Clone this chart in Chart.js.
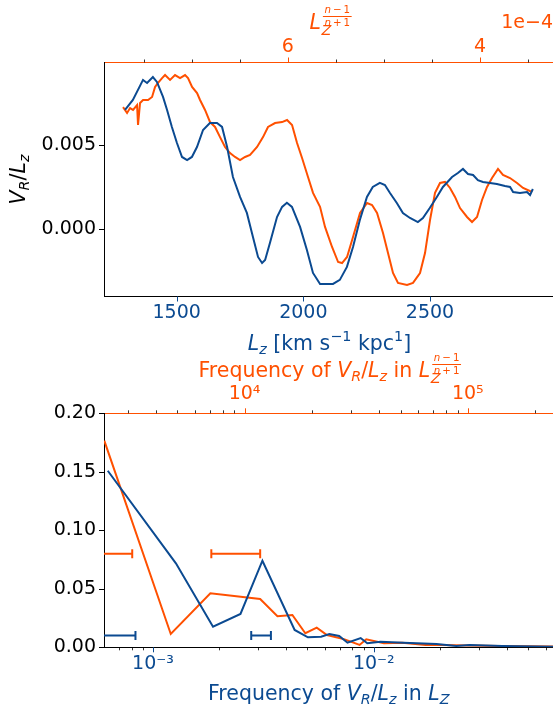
<!DOCTYPE html>
<html>
<head>
<meta charset="utf-8">
<script src="https://cdn.jsdelivr.net/npm/chart.js@4.4.1/dist/chart.umd.min.js"></script>
<style>
  html, body { margin: 0; padding: 0; background: #fff; overflow: hidden; }
  #wrap { position: relative; width: 553px; height: 710px; overflow: hidden; }
  canvas { position: absolute; left: 0; top: 0; }
</style>
</head>
<body>
<div id="wrap">
  <canvas id="topChart" width="560" height="710"></canvas>
  <canvas id="bottomChart" width="560" height="710"></canvas>
</div>
<script>
// ---- top panel: V_R/L_z against L_z (blue) and against L_z^((n-1)/(n+1)) (orange, units of 1e-4)
const lzBlue = [1296, 1327, 1367, 1383, 1406, 1422, 1446, 1462, 1481, 1501, 1521, 1541, 1560, 1580, 1604, 1631, 1659, 1679, 1699, 1722,
  1750, 1777, 1801, 1821, 1837, 1849, 1868, 1896, 1916, 1935, 1955, 1987, 2014, 2038, 2066, 2117, 2144, 2172, 2196, 2223,
  2251, 2274, 2302, 2322, 2342, 2369, 2393, 2421, 2452, 2472, 2499, 2527, 2551, 2587, 2610, 2630, 2650, 2670, 2689, 2709,
  2737, 2764, 2796, 2816, 2828, 2855, 2883, 2895, 2906];
const ratioBlue = [0.00708, 0.00767, 0.00886, 0.00868, 0.00903, 0.00874, 0.00785, 0.00708, 0.00607, 0.00512, 0.00429, 0.00411, 0.00429, 0.00488, 0.00589, 0.00630, 0.00630, 0.00607, 0.00488, 0.00310,
  0.00192, 0.00097, -0.00046, -0.00164, -0.00200, -0.00182, -0.00081, 0.00073, 0.00133, 0.00157, 0.00133, 0.00014, -0.00123, -0.00259, -0.00324, -0.00324, -0.00300, -0.00223, -0.00105, 0.00055,
  0.00192, 0.00251, 0.00275, 0.00263, 0.00215, 0.00156, 0.00097, 0.00067, 0.00043, 0.00067, 0.00126, 0.00192, 0.00251, 0.00310, 0.00334, 0.00358, 0.00328, 0.00322, 0.00292, 0.00281,
  0.00275, 0.00269, 0.00257, 0.00251, 0.00221, 0.00215, 0.00221, 0.00203, 0.00239];

const lzPow = [7.713, 7.671, 7.640, 7.609, 7.567, 7.557, 7.536, 7.505, 7.453, 7.411, 7.380, 7.349, 7.307, 7.276, 7.224, 7.172, 7.120, 7.068, 7.037, 6.995,
  6.943, 6.912, 6.860, 6.808, 6.756, 6.704, 6.652, 6.600, 6.548, 6.496, 6.444, 6.392, 6.319, 6.257, 6.205, 6.132, 6.059, 6.007, 5.955, 5.903,
  5.851, 5.789, 5.737, 5.664, 5.612, 5.539, 5.476, 5.435, 5.383, 5.321, 5.248, 5.175, 5.123, 5.071, 5.009, 4.957, 4.905, 4.853, 4.759, 4.697,
  4.624, 4.572, 4.520, 4.468, 4.416, 4.364, 4.312, 4.260, 4.208, 4.135, 4.083, 4.031, 3.979, 3.927, 3.875, 3.813, 3.761, 3.688, 3.615, 3.552, 3.459];
const ratioOrange = [0.00725, 0.00690, 0.00719, 0.00708, 0.00737, 0.00619, 0.00749, 0.00767, 0.00767, 0.00785, 0.00844, 0.00868, 0.00897, 0.00915, 0.00886, 0.00915, 0.00897, 0.00915, 0.00897, 0.00844,
  0.00808, 0.00767, 0.00708, 0.00636, 0.00607, 0.00547, 0.00488, 0.00452, 0.00429, 0.00411, 0.00429, 0.00441, 0.00488, 0.00547, 0.00607, 0.00630, 0.00636, 0.00648, 0.00618, 0.00512,
  0.00423, 0.00310, 0.00216, 0.00133, 0.00014, -0.00105, -0.00194, -0.00200, -0.00164, -0.00046, 0.00097, 0.00156, 0.00144, 0.00097, -0.00022, -0.00141, -0.00259, -0.00318, -0.00330, -0.00318,
  -0.00259, -0.00141, 0.00055, 0.00216, 0.00275, 0.00281, 0.00245, 0.00192, 0.00126, 0.00073, 0.00043, 0.00073, 0.00174, 0.00251, 0.00304, 0.00358, 0.00322, 0.00304, 0.00275, 0.00245, 0.00221];

const lzTicks = [1500, 2000, 2500];
const powTicks = [6, 4];
const powMinorTicks = [7.5, 7, 6.5, 5.5, 5, 4.5, 3.5];
const ratioTicks = [0, 0.005];
const ratioLabels = ['0.000', '0.005'];

// ---- bottom panel: power spectra
const freqBlue = [6.24e-4, 1.27e-3, 1.87e-3, 2.49e-3, 3.13e-3, 4.38e-3, 5.03e-3, 5.77e-3, 6.29e-3, 6.97e-3,
  7.60e-3, 8.72e-3, 9.34e-3, 1.072e-2, 1.362e-2, 1.923e-2, 2.362e-2, 2.71e-2, 3.82e-2, 6.51e-2];
const powerBlue = [0.1509, 0.0718, 0.0176, 0.0285, 0.0740, 0.0148, 0.0085, 0.0091, 0.0114, 0.0097,
  0.0039, 0.0079, 0.0034, 0.0048, 0.0039, 0.0028, 0.0011, 0.0020, 0.0011, 0.0005];

const freqOrange = [2354, 4673, 7030, 11750, 14040, 16380, 18720, 21060, 23400, 28080,
  32760, 35100, 42120, 50900, 64750, 76560, 101000, 137400, 242000];
const powerOrange = [0.1766, 0.0114, 0.0462, 0.0413, 0.0265, 0.0276, 0.0120, 0.0168, 0.0105, 0.0068,
  0.0020, 0.0068, 0.0034, 0.0039, 0.0020, 0.0020, 0.0015, 0.0011, 0.0007];

// horizontal error bars (period uncertainty)
const blueErrLo = [4.17e-4, 2.785e-3];
const blueErrHi = [8.33e-4, 3.42e-3];
const blueErrLevel = [0.01, 0.01];
const orangeErrLo = [1540, 7100];
const orangeErrHi = [3140, 11750];
const orangeErrLevel = [0.08, 0.08];

const freqTicks = [1e-3, 1e-2];
const freqLabels = ['10\u207B\u00B3', '10\u207B\u00B2'];
const freqPowTicks = [1e4, 1e5];
const freqPowLabels = ['10\u2074', '10\u2075'];
const powerTicks = [0, 0.05, 0.1, 0.15, 0.2];
const powerLabels = ['0.00', '0.05', '0.10', '0.15', '0.20'];

const BLUE = '#0b4a91';
const ORANGE = '#ff5000';
const FONT = '"DejaVu Sans", sans-serif';
const FS = 19;     // tick labels
const TS = 20.5;   // axis titles

function decadeMinors(lo, hi) {
  const out = [];
  for (let d = lo; d < hi; d *= 10) for (let m = 2; m <= 9; m++) out.push(m * d);
  return out;
}

// ---- small mathtext-like text renderer
const mathFont = (size, it) => (it ? 'italic ' : '') + size + 'px ' + FONT;
function runWidth(ctx, r, size) {
  if (r.frac) {
    const fs = size * r.s;
    return Math.max(runsWidth(ctx, r.frac[0], fs), runsWidth(ctx, r.frac[1], fs)) + fs * 0.3;
  }
  ctx.font = mathFont(size * (r.s || 1), r.it);
  return ctx.measureText(r.t).width;
}
function runsWidth(ctx, runs, size) {
  let w = 0;
  runs.forEach(r => { if (!r.noAdv) w += runWidth(ctx, r, size); });
  return w;
}
function drawRuns(ctx, runs, x, y, size, color, align) {
  const total = runsWidth(ctx, runs, size);
  let cx = align === 'center' ? x - total / 2 : (align === 'right' ? x - total : x);
  ctx.save();
  ctx.fillStyle = color;
  ctx.textBaseline = 'alphabetic';
  ctx.textAlign = 'left';
  runs.forEach(r => {
    const w = runWidth(ctx, r, size);
    const dx = (r.dx || 0) * size;
    if (r.frac) {
      const fs = size * r.s;
      drawRuns(ctx, r.frac[0], cx + dx + w / 2, y + r.num * size, fs, color, 'center');
      drawRuns(ctx, r.frac[1], cx + dx + w / 2, y + r.den * size, fs, color, 'center');
      ctx.fillRect(cx + dx, Math.round(y + r.bar * size), w, 1);
    } else {
      ctx.font = mathFont(size * (r.s || 1), r.it);
      ctx.fillText(r.t, cx + dx, y + (r.dy || 0) * size);
    }
    if (!r.noAdv) cx += w;
  });
  ctx.restore();
}

const fracExp = { frac: [[{ t: 'n', it: 1 }, { t: '\u2009\u2212\u20091' }], [{ t: 'n', it: 1 }, { t: '\u2009+\u20091' }]],
  s: 0.5, bar: -0.62, num: -0.76, den: -0.15, dx: 0.1 };
const lzPowRuns = [{ t: 'L', it: 1 }, { t: 'Z', it: 1, s: 0.7, dy: 0.3, noAdv: 1, dx: 0.03 }, fracExp];
const ratioRuns = [{ t: 'V', it: 1 }, { t: 'R', it: 1, s: 0.7, dy: 0.2 }, { t: '/' }, { t: 'L', it: 1 }, { t: 'z', it: 1, s: 0.7, dy: 0.2 }];
const lzRuns = [{ t: 'L', it: 1 }, { t: 'z', it: 1, s: 0.7, dy: 0.2 }, { t: ' [km s' }, { t: '\u22121', s: 0.7, dy: -0.42 },
  { t: ' kpc' }, { t: '1', s: 0.7, dy: -0.42 }, { t: ']' }];
const freqHead = [{ t: 'Frequency of ' }].concat(ratioRuns, [{ t: ' in ' }, { t: 'L', it: 1 }]);
const freqPowRuns = freqHead.concat([{ t: 'Z', it: 1, s: 0.7, dy: 0.3, noAdv: 1, dx: 0.03 }, fracExp]);
const freqLzRuns = freqHead.concat([{ t: 'Z', it: 1, s: 0.7, dy: 0.2 }]);

// ---- tick marks drawn through the scales
function tickPlugin(specs) {
  return {
    id: 'tickMarks',
    afterDraw(chart) {
      const ctx = chart.ctx;
      ctx.save();
      specs.forEach(s => {
        const sc = chart.scales[s.axis];
        s.marks.forEach(m => {
          m.values.forEach(v => {
            const p = Math.round(sc.getPixelForValue(v)) + 0.5;
            ctx.strokeStyle = m.color;
            ctx.lineWidth = m.width;
            ctx.beginPath();
            if (sc.position === 'bottom') { ctx.moveTo(p, sc.top); ctx.lineTo(p, sc.top + m.len); }
            else if (sc.position === 'top') { ctx.moveTo(p, sc.bottom); ctx.lineTo(p, sc.bottom - m.len); }
            else { ctx.moveTo(sc.right, p); ctx.lineTo(sc.right - m.len, p); }
            ctx.stroke();
          });
        });
      });
      ctx.restore();
    }
  };
}

function axis(opts) {
  return {
    type: opts.type || 'linear',
    position: opts.position,
    min: opts.min, max: opts.max,
    reverse: !!opts.reverse,
    grid: { display: false, drawTicks: false },
    border: { display: true, color: opts.borderColor || '#000', width: 1 },
    ticks: {
      color: opts.color, padding: opts.padding, maxRotation: 0, autoSkip: false,
      font: { family: FONT, size: FS },
      callback: (v, i) => opts.labels[i]
    },
    afterBuildTicks: sc => { sc.ticks = opts.ticks.map(v => ({ value: v })); },
    afterFit: sc => { if (opts.position === 'left') sc.width = 100; else sc.height = 40; }
  };
}

function lineSet(xs, ys, xAxis, color) {
  return {
    data: xs.map((v, i) => ({ x: v, y: ys[i] })),
    xAxisID: xAxis, yAxisID: 'y',
    borderColor: color, borderWidth: 2, pointRadius: 0, tension: 0, clip: 0
  };
}
function errSet(lo, hi, lev, i, xAxis, color) {
  return {
    data: [{ x: lo[i], y: lev[i] }, { x: hi[i], y: lev[i] }],
    xAxisID: xAxis, yAxisID: 'y',
    borderColor: color, borderWidth: 2, tension: 0, clip: 0,
    pointStyle: 'line', rotation: 90, pointRadius: 4.5,
    pointBorderColor: color, pointBorderWidth: 2
  };
}

const common = {
  responsive: false, animation: false, devicePixelRatio: 1,
  plugins: { legend: { display: false }, tooltip: { enabled: false } },
  events: []
};

new Chart(document.getElementById('topChart'), {
  type: 'line',
  data: {
    datasets: [
      lineSet(lzBlue, ratioBlue, 'x', BLUE),
      lineSet(lzPow, ratioOrange, 'x2', ORANGE)
    ]
  },
  options: Object.assign({}, common, {
    layout: { padding: { left: 4, right: 5, top: 22.5, bottom: 373.5 } },
    scales: {
      x: axis({ position: 'bottom', min: 1213, max: 2993.4, ticks: lzTicks, labels: lzTicks.map(String), color: BLUE, padding: 5.5 }),
      x2: axis({ position: 'top', min: 3.22, max: 7.911, reverse: true, ticks: powTicks, labels: powTicks.map(String), color: ORANGE, borderColor: ORANGE, padding: 4.4 }),
      y: axis({ position: 'left', min: -0.003986, max: 0.009893, ticks: ratioTicks, labels: ratioLabels, color: '#000', padding: 8 })
    }
  }),
  plugins: [
    tickPlugin([
      { axis: 'x', marks: [{ values: lzTicks, len: 5, width: 1, color: BLUE }] },
      { axis: 'x2', marks: [{ values: powTicks, len: 5, width: 1, color: ORANGE }, { values: powMinorTicks, len: 3, width: 0.8, color: '#000' }] },
      { axis: 'y', marks: [{ values: ratioTicks, len: 5, width: 1, color: '#000' }] }
    ]),
    {
      id: 'topText',
      afterDraw(chart) {
        const ctx = chart.ctx;
        const mid = (chart.chartArea.left + chart.chartArea.right) / 2;
        drawRuns(ctx, lzPowRuns, mid, 29, TS, ORANGE, 'center');
        drawRuns(ctx, [{ t: '1e\u22124' }], 553, 28, FS, ORANGE, 'right');
        drawRuns(ctx, lzRuns, mid, 350, TS, BLUE, 'center');
        ctx.save();
        ctx.translate(25, (chart.chartArea.top + chart.chartArea.bottom) / 2);
        ctx.rotate(-Math.PI / 2);
        drawRuns(ctx, ratioRuns, 0, 0, TS, '#000', 'center');
        ctx.restore();
      }
    }
  ]
});

new Chart(document.getElementById('bottomChart'), {
  type: 'line',
  data: {
    datasets: [
      lineSet(freqBlue, powerBlue, 'x', BLUE),
      lineSet(freqOrange, powerOrange, 'x2', ORANGE),
      errSet(blueErrLo, blueErrHi, blueErrLevel, 0, 'x', BLUE),
      errSet(blueErrLo, blueErrHi, blueErrLevel, 1, 'x', BLUE),
      errSet(orangeErrLo, orangeErrHi, orangeErrLevel, 0, 'x2', ORANGE),
      errSet(orangeErrLo, orangeErrHi, orangeErrLevel, 1, 'x2', ORANGE)
    ]
  },
  options: Object.assign({}, common, {
    layout: { padding: { left: 4, right: 5, top: 373.3, bottom: 22.7 } },
    scales: {
      x: axis({ type: 'logarithmic', position: 'bottom', min: 6.223e-4, max: 0.06512, ticks: freqTicks, labels: freqLabels, color: BLUE, padding: 5.5 }),
      x2: axis({ type: 'logarithmic', position: 'top', min: 2347, max: 242100, ticks: freqPowTicks, labels: freqPowLabels, color: ORANGE, borderColor: ORANGE, padding: 7.9 }),
      y: axis({ position: 'left', min: 0, max: 0.2, ticks: powerTicks, labels: powerLabels, color: '#000', padding: 8 })
    }
  }),
  plugins: [
    tickPlugin([
      { axis: 'x', marks: [{ values: freqTicks, len: 5, width: 1, color: BLUE }, { values: decadeMinors(1e-4, 1e-1).filter(v => v > 6.3e-4 && v < 0.065), len: 3, width: 0.8, color: '#000' }] },
      { axis: 'x2', marks: [{ values: freqPowTicks, len: 5, width: 1, color: ORANGE }, { values: decadeMinors(1e3, 1e6).filter(v => v > 2400 && v < 242000), len: 3, width: 0.8, color: '#000' }] },
      { axis: 'y', marks: [{ values: powerTicks, len: 5, width: 1, color: '#000' }] }
    ]),
    {
      id: 'bottomText',
      afterDraw(chart) {
        const ctx = chart.ctx;
        const mid = (chart.chartArea.left + chart.chartArea.right) / 2;
        drawRuns(ctx, freqPowRuns, mid, 376.7, TS, ORANGE, 'center');
        drawRuns(ctx, freqLzRuns, mid, 700, TS, BLUE, 'center');
      }
    }
  ]
});
</script>
</body>
</html>
